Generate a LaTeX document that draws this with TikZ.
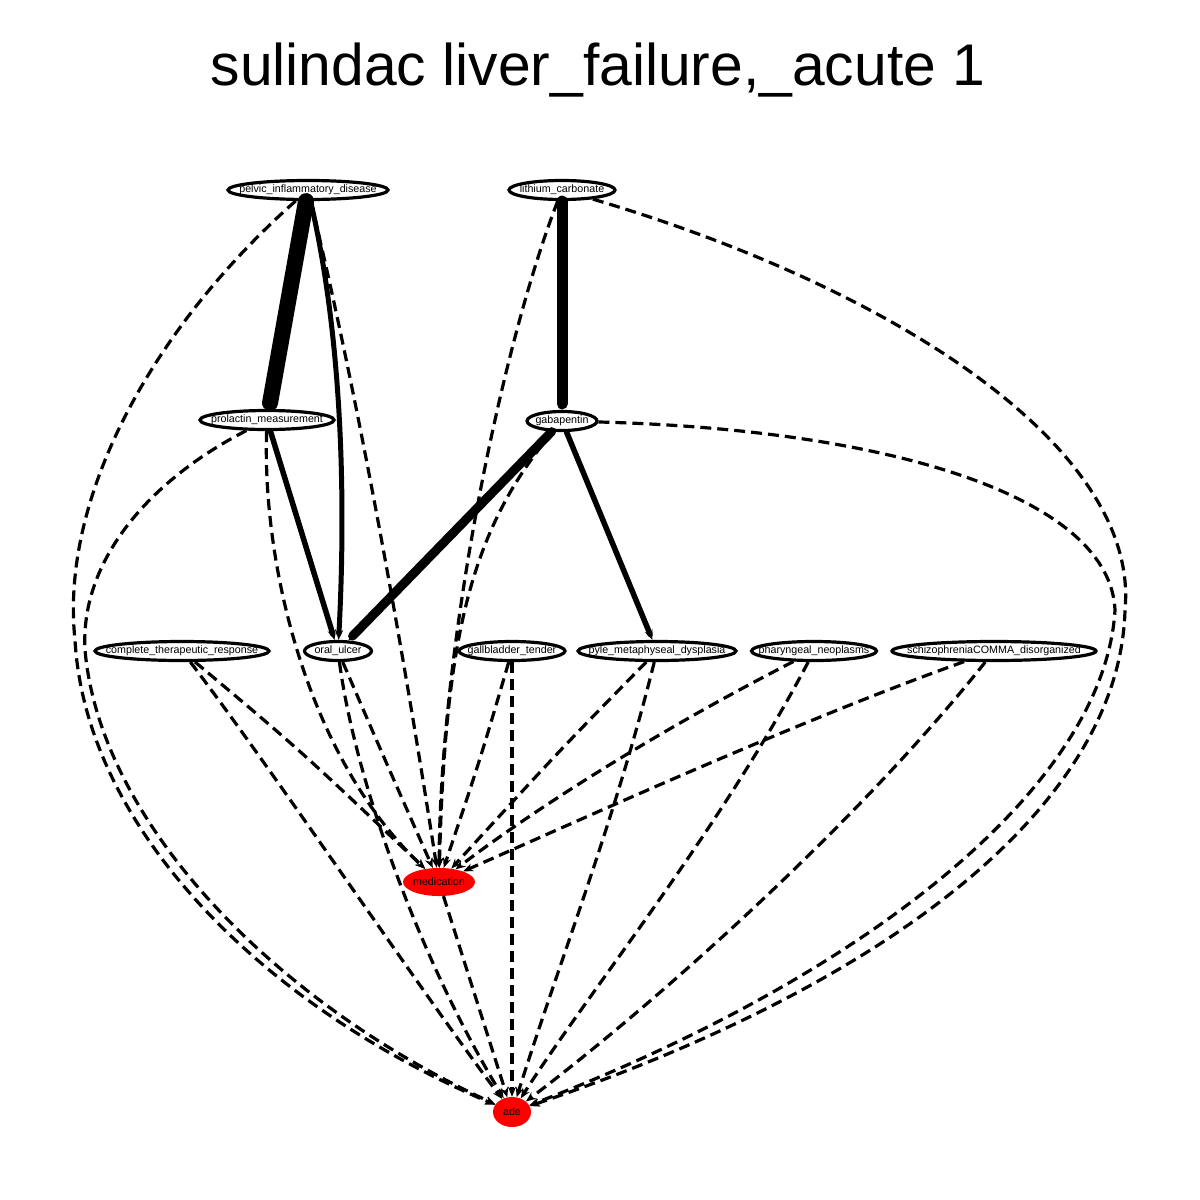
\documentclass[tikz,border=0pt]{standalone}
\usepackage{fontspec}
\setmainfont{Liberation Sans}
\usetikzlibrary{shapes.geometric,arrows.meta}
\newcommand{\nlab}[1] {%
  \makebox[0pt]{#1}}

\begin{document}
\begin{tikzpicture}[x=1pt,y=-1pt,
	ent/.style={ellipse,draw,line width=3.2pt,minimum height=19pt,inner sep=0pt,font=\fontsize{10.7}{12}\selectfont},
	hit/.style={ellipse,fill=red,inner sep=0pt,font=\fontsize{10.7}{12}\selectfont},
	dep/.style={line width=3.2pt,dash pattern=on 11pt off 6pt,-{Stealth[length=10pt,width=8pt]}},
	link/.style={line cap=round,-{Stealth[length=10pt,width=8pt]}}]
					\fill[white] (0,0) rectangle (1200,1200);
					\useasboundingbox (0,0) rectangle (1200,1200);
					\node[anchor=base,font=\fontsize{58.8}{70}\selectfont] (title) at (598,85) {sulindac liver\_failure,\_acute 1};
					%NODES
					\node[ent,minimum width=160pt] (pid) at (308,190) {\nlab{pelvic\_inflammatory\_disease}};
					\node[ent,minimum width=106pt] (lc) at (562,190) {\nlab{lithium\_carbonate}};
					\node[ent,minimum width=134pt] (pm) at (267,420) {\nlab{prolactin\_measurement}};
					\node[ent,minimum width=70pt] (gb) at (562,421) {\nlab{gabapentin}};
					\node[ent,minimum width=174pt] (ctr) at (182,651) {\nlab{complete\_therapeutic\_response}};
					\node[ent,minimum width=67pt] (ou) at (338,651) {\nlab{oral\_ulcer}};
					\node[ent,minimum width=106pt] (gt) at (512,651) {\nlab{gallbladder\_tender}};
					\node[ent,minimum width=158pt] (pmd) at (657,651) {\nlab{pyle\_metaphyseal\_dysplasia}};
					\node[ent,minimum width=125pt] (pn) at (814,651) {\nlab{pharyngeal\_neoplasms}};
					\node[ent,minimum width=204pt] (sd) at (994,651) {\nlab{schizophreniaCOMMA\_disorganized}};
					\node[hit,minimum width=72pt,minimum height=28pt] (med) at (439,882) {\nlab{medication}};
					\node[hit,minimum width=38pt,minimum height=30pt] (ade) at (512,1112) {\nlab{ade}};
					%SOLID EDGES
					\draw[link,line width=16pt] (pid) -- (pm);
					\draw[link,line width=11pt] (lc) -- (gb);
					\draw[link,line width=9pt] (gb) -- (ou);
					\draw[link,line width=5.5pt] (gb) -- (pmd);
					\draw[link,line width=5.5pt] (pm) -- (ou);
					\draw[link,line width=5pt] (pid) .. controls (345,350) and (345,520) .. (ou);
					%DASHED EDGES
					\draw[dep] (pid) .. controls (330,280) and (380,500) .. (med);
					\draw[dep] (pid) .. controls (150,330) and (60,500) .. (75,640) .. controls (85,820) and (250,1000) .. (ade);
					\draw[dep] (pm) .. controls (262,570) and (310,760) .. (med);
					\draw[dep] (pm) .. controls (150,480) and (80,560) .. (85,650) .. controls (100,820) and (270,1000) .. (ade);
					\draw[dep] (lc) .. controls (500,350) and (440,650) .. (med);
					\draw[dep] (lc) .. controls (900,290) and (1140,450) .. (1125,610) .. controls (1120,800) and (900,980) .. (ade);
					\draw[dep] (gb) .. controls (470,530) and (445,640) .. (med);
					\draw[dep] (gb) .. controls (900,430) and (1110,500) .. (1115,610) .. controls (1105,780) and (880,970) .. (ade);
					\draw[dep] (ctr) .. controls (300,750) .. (med);
					\draw[dep] (ctr) .. controls (280,780) and (420,990) .. (ade);
					\draw[dep] (ou) .. controls (385,760) .. (med);
					\draw[dep] (ou) .. controls (355,780) and (420,960) .. (ade);
					\draw[dep] (gt) .. controls (480,760) .. (med);
					\draw[dep] (gt) -- (ade);
					\draw[dep] (pmd) .. controls (560,750) .. (med);
					\draw[dep] (pmd) .. controls (615,820) and (560,960) .. (ade);
					\draw[dep] (pn) .. controls (640,740) and (520,820) .. (med);
					\draw[dep] (pn) .. controls (720,830) and (590,990) .. (ade);
					\draw[dep] (sd) .. controls (800,720) and (580,820) .. (med);
					\draw[dep] (sd) .. controls (860,820) and (660,1000) .. (ade);
					\draw[dep] (med) -- (ade);
\end{tikzpicture}
\end{document}
